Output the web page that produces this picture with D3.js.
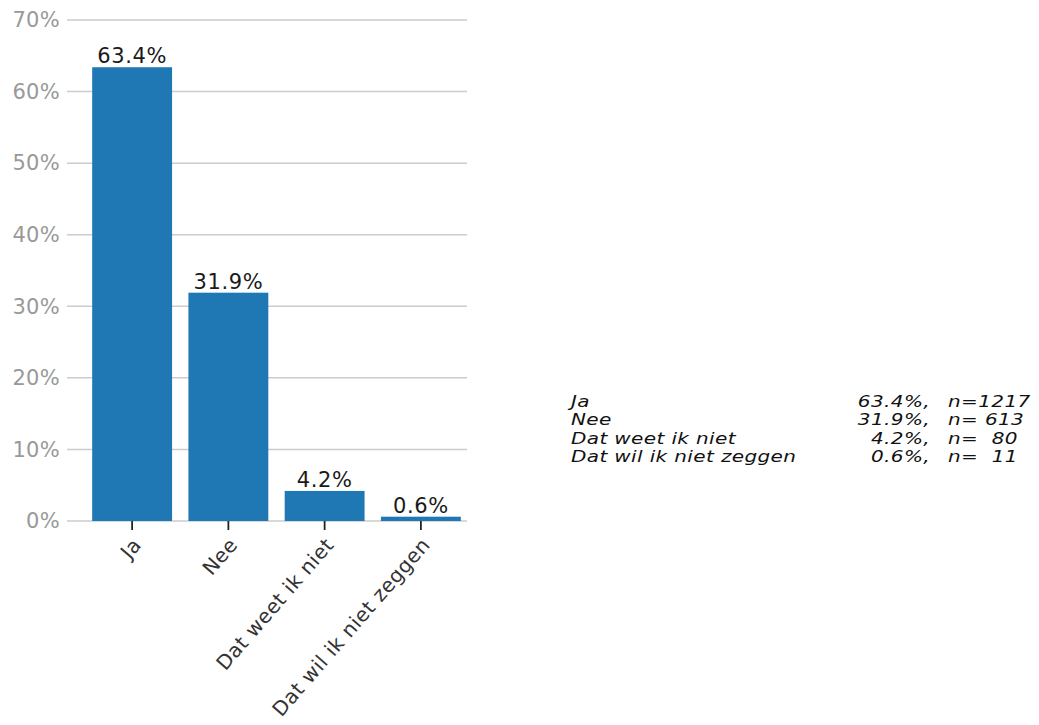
<!DOCTYPE html>
<html>
<head>
<meta charset="utf-8">
<script src="https://cdn.jsdelivr.net/npm/d3@7"></script>
<style>
  body { margin: 0; background: #fff; }
  text { font-family: "DejaVu Sans", Verdana, sans-serif; }
</style>
</head>
<body>
<script>
// answers, share in percent and counts
const categories = ['Ja', 'Nee', 'Dat weet ik niet', 'Dat wil ik niet zeggen']
const percents = [63.4, 31.9, 4.2, 0.6]
const counts = [1217, 613, 80, 11]
const yTicks = [0, 10, 20, 30, 40, 50, 60, 70]

const data = categories.map((c, i) => ({cat: c, pct: percents[i], n: counts[i]}))

const width = 1039
const height = 725

const svg = d3.select('body').append('svg')
  .attr('width', width)
  .attr('height', height)

const xScale = d3.scaleBand()
  .domain(categories)
  .range([84, 469])
  .paddingInner(0.17)
  .paddingOuter(0.085)

const yScale = d3.scaleLinear()
  .domain([0, 70])
  .range([521, 20])

const mid = d => xScale(d) + xScale.bandwidth() / 2

// gridlines
svg.append('g')
  .selectAll('line')
  .data(yTicks)
  .enter()
  .append('line')
  .attr('x1', 67)
  .attr('x2', 467)
  .attr('y1', d => yScale(d))
  .attr('y2', d => yScale(d))
  .attr('stroke', '#cccccc')
  .attr('stroke-width', 1.5)

// y labels
svg.append('g')
  .selectAll('text')
  .data(yTicks)
  .enter()
  .append('text')
  .attr('x', 60)
  .attr('y', d => yScale(d))
  .attr('dy', '0.35em')
  .attr('text-anchor', 'end')
  .attr('fill', '#999999')
  .style('font-size', '21px')
  .style('letter-spacing', '0.3px')
  .text(d => d + '%')

// bars
svg.append('g')
  .selectAll('rect')
  .data(data)
  .enter()
  .append('rect')
  .attr('x', d => xScale(d.cat))
  .attr('width', xScale.bandwidth())
  .attr('y', d => yScale(d.pct))
  .attr('height', d => yScale(0) - yScale(d.pct))
  .attr('fill', '#1f77b4')

// value labels
svg.append('g')
  .selectAll('text')
  .data(data)
  .enter()
  .append('text')
  .attr('x', d => mid(d.cat))
  .attr('y', d => yScale(d.pct) - 4)
  .attr('text-anchor', 'middle')
  .attr('fill', '#1a1a1a')
  .style('font-size', '21px')
  .style('letter-spacing', '0.6px')
  .text(d => d.pct.toFixed(1) + '%')

// x ticks
svg.append('g')
  .selectAll('line')
  .data(categories)
  .enter()
  .append('line')
  .attr('x1', d => mid(d))
  .attr('x2', d => mid(d))
  .attr('y1', 521)
  .attr('y2', 530)
  .attr('stroke', '#222')
  .attr('stroke-width', 1.8)

// x labels, rotated
svg.append('g')
  .selectAll('text')
  .data(categories)
  .enter()
  .append('text')
  .attr('transform', d => `translate(${mid(d) + 5},${541}) rotate(-49)`)
  .attr('text-anchor', 'end')
  .attr('dy', '0.35em')
  .attr('fill', '#333333')
  .style('font-size', '20px')
  .style('letter-spacing', '0.5px')
  .text(d => d)

// legend table on the right (wide glyphs, tight rows)
const legend = svg.append('g')
  .style('font-size', '16px')
  .style('font-style', 'italic')
  .style('letter-spacing', '0.3px')
  .attr('fill', '#111')

const rowY = i => 407 + i * 18.4
const stretch = 1.25

legend.selectAll('.lab')
  .data(data)
  .enter()
  .append('text')
  .attr('class', 'lab')
  .attr('transform', (d, i) => `translate(571,${rowY(i)}) scale(${stretch},1)`)
  .text(d => d.cat)

legend.selectAll('.pct')
  .data(data)
  .enter()
  .append('text')
  .attr('class', 'pct')
  .attr('transform', (d, i) => `translate(930,${rowY(i)}) scale(${stretch},1)`)
  .attr('text-anchor', 'end')
  .text(d => d.pct.toFixed(1) + '%,')

legend.selectAll('.cnt')
  .data(data)
  .enter()
  .append('text')
  .attr('class', 'cnt')
  .attr('transform', (d, i) => `translate(948,${rowY(i)}) scale(${stretch},1)`)
  .style('white-space', 'pre')
  .text(d => 'n=' + String(d.n).padStart(4, ' '))
</script>
</body>
</html>
